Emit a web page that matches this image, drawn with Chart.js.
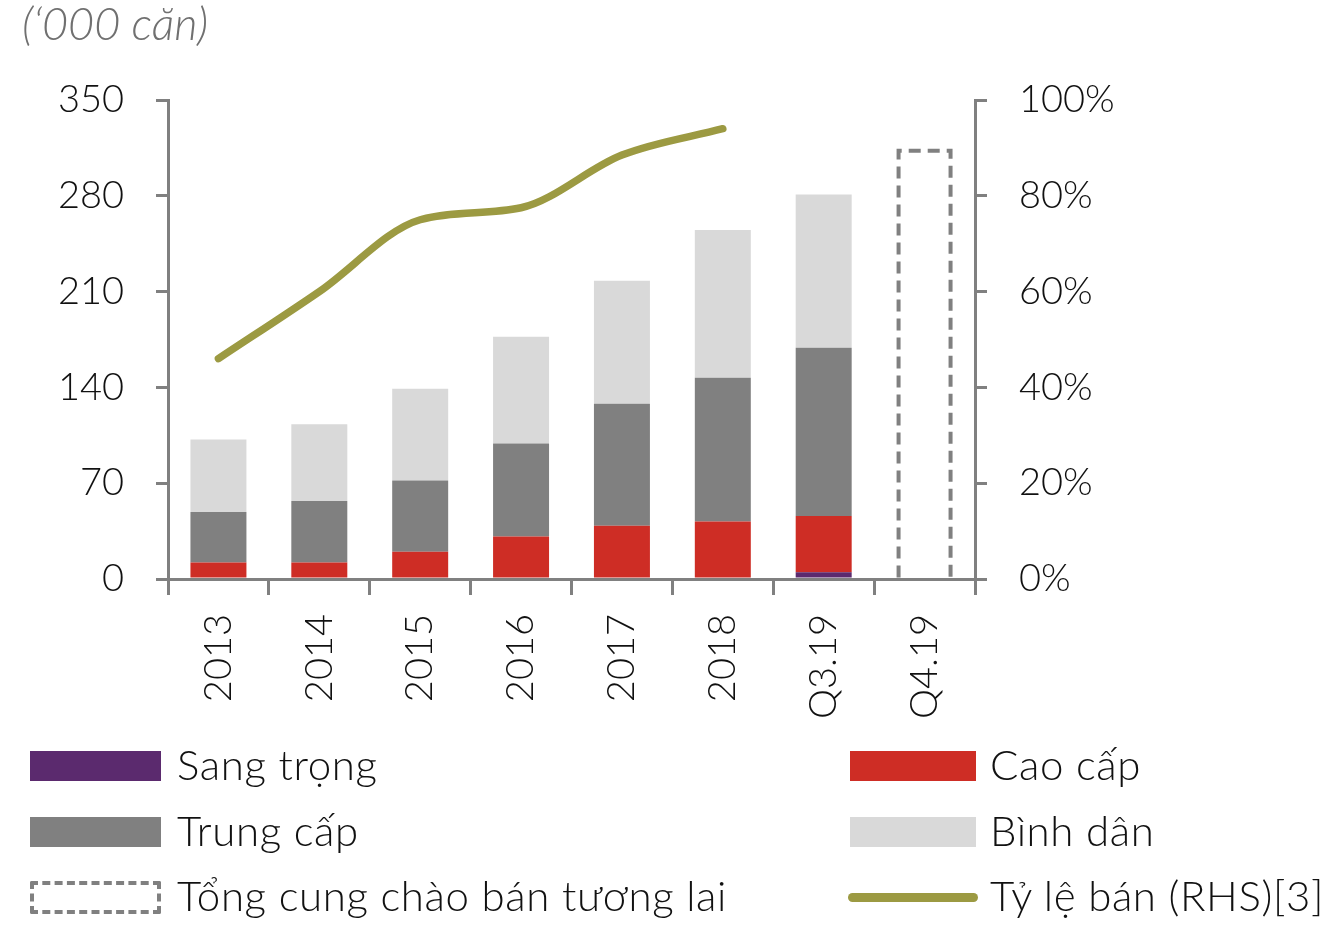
<!DOCTYPE html>
<html>
<head>
<meta charset="utf-8">
<script src="https://cdn.jsdelivr.net/npm/chart.js@4.4.1/dist/chart.umd.min.js"></script>
<style>
  html, body { margin: 0; padding: 0; background: #fff; }
  body { width: 1336px; height: 948px; position: relative; overflow: hidden; font-family: "Lato", "Open Sans", sans-serif; font-weight: 300; color: #111; }
  #wrap { position: absolute; left: 0; top: 0; width: 1336px; height: 948px; }
  #unit { position: absolute; left: 22px; top: -4px; font-size: 45px; font-style: italic; color: #707070; }
  .lg { position: absolute; font-size: 42px; line-height: 44px; white-space: nowrap; letter-spacing: 0.6px; }
  .sw { position: absolute; box-sizing: border-box; }
</style>
</head>
<body>
<div id="wrap"><canvas id="c"></canvas></div>
<div id="unit">(‘000 căn)</div>
<div id="legend"></div>
<script>
"use strict";
// data
const labels = ["2013", "2014", "2015", "2016", "2017", "2018", "Q3.19", "Q4.19"];
const sangTrong = [0, 0, 0, 0, 0, 0, 5, null];
const caoCap = [12, 12, 20, 31, 39, 42, 41, null];
const trungCap = [37, 45, 52, 68, 89, 105, 123, null];
const binhDan = [53, 56, 67, 78, 90, 108, 112, null];
const tuongLai = [null, null, null, null, null, null, null, 313];
const tyLeBan = [0.46, 0.60, 0.75, 0.775, 0.885, 0.94, null, null];
const leftTicks = [0, 70, 140, 210, 280, 350];

const GREY = "#808080", FONT = "'Lato', 'Open Sans', sans-serif";
const tickFont = { family: FONT, size: 38, weight: 300 };

// dashed outline (top + sides) for the future-supply bar, on the bar element the library laid out
const dashedBox = {
  id: "dashedBox",
  afterDatasetsDraw(chart){
    chart.data.datasets.forEach((ds, i) => {
      if(!ds.dashed) return;
      const ctx = chart.ctx;
      chart.getDatasetMeta(i).data.forEach((el, j) => {
        if(ds.data[j] == null) return;
        const p = el.getProps(["x", "y", "base", "width"], true);
        const l = p.x - p.width/2 + 2, r = p.x + p.width/2 - 2;
        ctx.save();
        ctx.strokeStyle = GREY; ctx.lineWidth = 4; ctx.setLineDash([12, 7]);
        ctx.beginPath();
        ctx.moveTo(l, p.base); ctx.lineTo(l, p.y); ctx.lineTo(r, p.y); ctx.lineTo(r, p.base);
        ctx.stroke();
        ctx.restore();
      });
    });
  }
};

const bar = (label, data, color) => ({ type: "bar", label, data, backgroundColor: color, stack: "s", order: 1,
  barPercentage: 0.555, categoryPercentage: 1, borderWidth: 0, yAxisID: "y" });

const chart = new Chart(document.getElementById("c"), {
  data: { labels, datasets: [
    bar("Sang trọng", sangTrong, "#5B2A6E"),
    bar("Cao cấp", caoCap, "#CE2D25"),
    bar("Trung cấp", trungCap, "#808080"),
    bar("Bình dân", binhDan, "#D9D9D9"),
    Object.assign(bar("Tổng cung chào bán tương lai", tuongLai, "rgba(0,0,0,0)"), { dashed: true }),
    { type: "line", label: "Tỷ lệ bán (RHS)[3]", data: tyLeBan, yAxisID: "y1", order: 0,
      borderColor: "#9C9A42", borderWidth: 7.5, borderCapStyle: "round", cubicInterpolationMode: "monotone",
      pointRadius: 0, fill: false, spanGaps: false }
  ]},
  options: {
    responsive: true, maintainAspectRatio: false, animation: false,
    layout: { padding: { top: 100, left: 0, right: 111, bottom: 209 } },
    plugins: { legend: { display: false }, tooltip: { enabled: false } },
    scales: {
      x: { stacked: true,
        grid: { drawOnChartArea: false, drawTicks: true, tickLength: 16, color: GREY, lineWidth: 3, offset: true },
        border: { color: GREY, width: 3 },
        ticks: { font: tickFont, color: "#111", minRotation: 90, maxRotation: 90, padding: 19 },
        afterFit: s => { s.height = 160; } },
      y: { stacked: true, min: 0, max: 350,
        afterBuildTicks: s => { s.ticks = leftTicks.map(v => ({ value: v })); },
        grid: { drawOnChartArea: false, tickLength: 12, color: GREY, lineWidth: 3 },
        border: { color: GREY, width: 3 },
        ticks: { font: tickFont, color: "#111", padding: 32 },
        afterFit: s => { s.width = 168; } },
      y1: { position: "right", min: 0, max: 1,
        grid: { drawOnChartArea: false, tickLength: 12, color: GREY, lineWidth: 3 },
        border: { color: GREY, width: 3 },
        ticks: { font: tickFont, color: "#111", padding: 32, stepSize: 0.2,
          callback: v => Math.round(v * 100) + "%" },
        afterFit: s => { s.width = 250; } }
    }
  },
  plugins: [dashedBox]
});

// two-column legend under the chart, built from the datasets
const lg = document.getElementById("legend");
const rows = [[0, 1], [2, 3], [4, 5]];
rows.forEach((r, ri) => {
  const cy = 766 + ri * 65.5;
  r.forEach((di, ci) => {
    const ds = chart.data.datasets[di];
    const sx = ci ? 850 : 30, sw = ci ? 126 : 131, tx = ci ? 990 : 177;
    const s = document.createElement("div"); s.className = "sw";
    if(ds.type === "line"){
      s.style.cssText = `left:${sx - 2}px;top:${cy - 4}px;width:${sw + 4}px;height:9px;border-radius:5px;background:${ds.borderColor}`;
    } else if(ds.dashed){
      s.style.cssText = `left:${sx}px;top:${cy - 16}px;width:${sw}px;height:33px;border:4px dashed ${GREY};border-radius:2px`;
    } else {
      s.style.cssText = `left:${sx}px;top:${cy - 15}px;width:${sw}px;height:30px;background:${ds.backgroundColor}`;
    }
    lg.appendChild(s);
    const t = document.createElement("div"); t.className = "lg";
    t.textContent = ds.label;
    t.style.left = tx + "px"; t.style.top = (cy - 24) + "px";
    lg.appendChild(t);
  });
});
</script>
</body>
</html>
